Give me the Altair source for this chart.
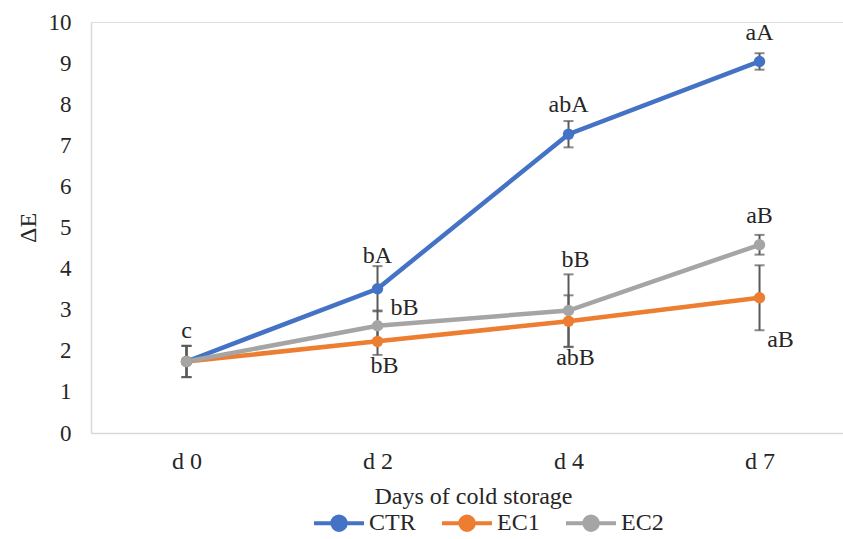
import json
import altair as alt
import pandas as pd

days = ["d 0", "d 2", "d 4", "d 7"]
series = ["CTR", "EC1", "EC2"]
ctr = [1.74, 3.51, 7.27, 9.04]
ec1 = [1.74, 2.23, 2.72, 3.29]
ec2 = [1.74, 2.61, 2.98, 4.58]
ctr_err = [0.38, 0.55, 0.32, 0.20]
ec1_err = [0.38, 0.33, 0.63, 0.79]
ec2_err = [0.38, 0.37, 0.88, 0.24]
colors = ["#4472C4", "#ED7D31", "#A5A5A5"]

# significance letters
lab_day = ["d 0", "d 2", "d 2", "d 2", "d 4", "d 4", "d 4", "d 7", "d 7", "d 7"]
lab_text = ["c", "bA", "bB", "bB", "abA", "bB", "abB", "aA", "aB", "aB"]
lab_y = [2.47, 4.30, 3.05, 1.62, 7.98, 4.20, 1.83, 9.73, 5.29, 2.27]
lab_shift = [0, 0, 27, 7, 0, 7, 7, 0, 0, 21]

rows = []
for s, vals, errs in zip(series, [ctr, ec1, ec2], [ctr_err, ec1_err, ec2_err]):
    for i, (d, v, e) in enumerate(zip(days, vals, errs)):
        rows.append({"series": s, "day": d, "idx": i, "value": v,
                     "lo": v - e, "hi": v + e})
df = pd.DataFrame(rows)

labs = pd.DataFrame({"day": lab_day, "text": lab_text, "y": lab_y,
                     "shift": lab_shift})
labs["idx"] = [days.index(d) for d in lab_day]

FONT = "Liberation Serif"
TXT = "#262626"
FS = 24

xscale = alt.Scale(domain=[-0.5, 3.437], nice=False, zero=False)
yscale = alt.Scale(domain=[0, 10], nice=False)

x_axis = alt.Axis(values=[0, 1, 2, 3],
                  labelExpr=json.dumps(days) + "[datum.value]",
                  title="Days of cold storage",
                  grid=False, ticks=False, domainColor="#D9D9D9",
                  domainWidth=1.5, labelFont=FONT, labelFontSize=FS,
                  labelColor=TXT, labelBaseline="alphabetic", labelPadding=35,
                  labelFlush=False, labelOverlap=False,
                  titleFont=FONT, titleFontSize=FS, titleColor=TXT,
                  titleFontWeight="normal", titleX=382, titleY=70,
                  titleBaseline="alphabetic", titleAlign="center")
y_axis = alt.Axis(values=list(range(0, 11)), title="ΔE", grid=False,
                  ticks=False, domainColor="#D9D9D9", domainWidth=1.5,
                  labelFont=FONT, labelFontSize=23, labelColor=TXT,
                  labelPadding=20, labelFlush=False,
                  titleFont=FONT, titleFontSize=FS, titleColor=TXT,
                  titleFontWeight="normal", titleAngle=270, titleX=-56,
                  titleY=205.5, titleAlign="center",
                  titleBaseline="alphabetic")

legend_path = ("M-1,0L1,0M0.27,0A0.27,0.27,0,1,1,-0.27,0"
               "A0.27,0.27,0,1,1,0.27,0Z")
legend = alt.Legend(orient="none", legendX=221, legendY=474,
                    direction="horizontal", title=None,
                    symbolType=legend_path, symbolSize=2500,
                    symbolStrokeWidth=4, labelFont=FONT, labelFontSize=FS,
                    labelColor=TXT, columnPadding=18, labelOffset=3)
color = alt.Color("series:N", scale=alt.Scale(domain=series, range=colors),
                  legend=legend)

base = alt.Chart(df)
X = alt.X("idx:Q", scale=xscale, axis=x_axis)

err_rule = base.mark_rule(color="#595959", strokeWidth=2).encode(
    x=X, y=alt.Y("lo:Q", scale=yscale, axis=y_axis), y2="hi:Q")
err_lo = base.mark_tick(color="#595959", thickness=2, size=10,
                        orient="horizontal").encode(
    x=X, y=alt.Y("lo:Q", scale=yscale))
err_hi = base.mark_tick(color="#595959", thickness=2, size=10,
                        orient="horizontal").encode(
    x=X, y=alt.Y("hi:Q", scale=yscale))

lines = base.mark_line(strokeWidth=4.5).encode(
    x=X, y=alt.Y("value:Q", scale=yscale), color=color,
    order="idx:Q")
points = base.mark_point(filled=True, size=130, opacity=1).encode(
    x=X, y=alt.Y("value:Q", scale=yscale), color=color)

texts = []
for sh in sorted(set(lab_shift)):
    texts.append(
        alt.Chart(labs).transform_filter(alt.datum.shift == sh)
        .mark_text(font=FONT, fontSize=FS, color=TXT, baseline="middle",
                   align="center", dx=sh)
        .encode(x=alt.X("idx:Q", scale=xscale),
                y=alt.Y("y:Q", scale=yscale), text="text:N"))

chart = alt.layer(err_rule, err_lo, err_hi, lines, points, *texts).properties(
    width=752, height=411,
    autosize=alt.AutoSizeParams(type="none"),
    padding={"left": 91, "top": 22, "right": 0, "bottom": 106},
).configure_view(stroke=None).configure(background="white")

chart.save("out.html", embed_options={"renderer": "svg", "actions": False})
